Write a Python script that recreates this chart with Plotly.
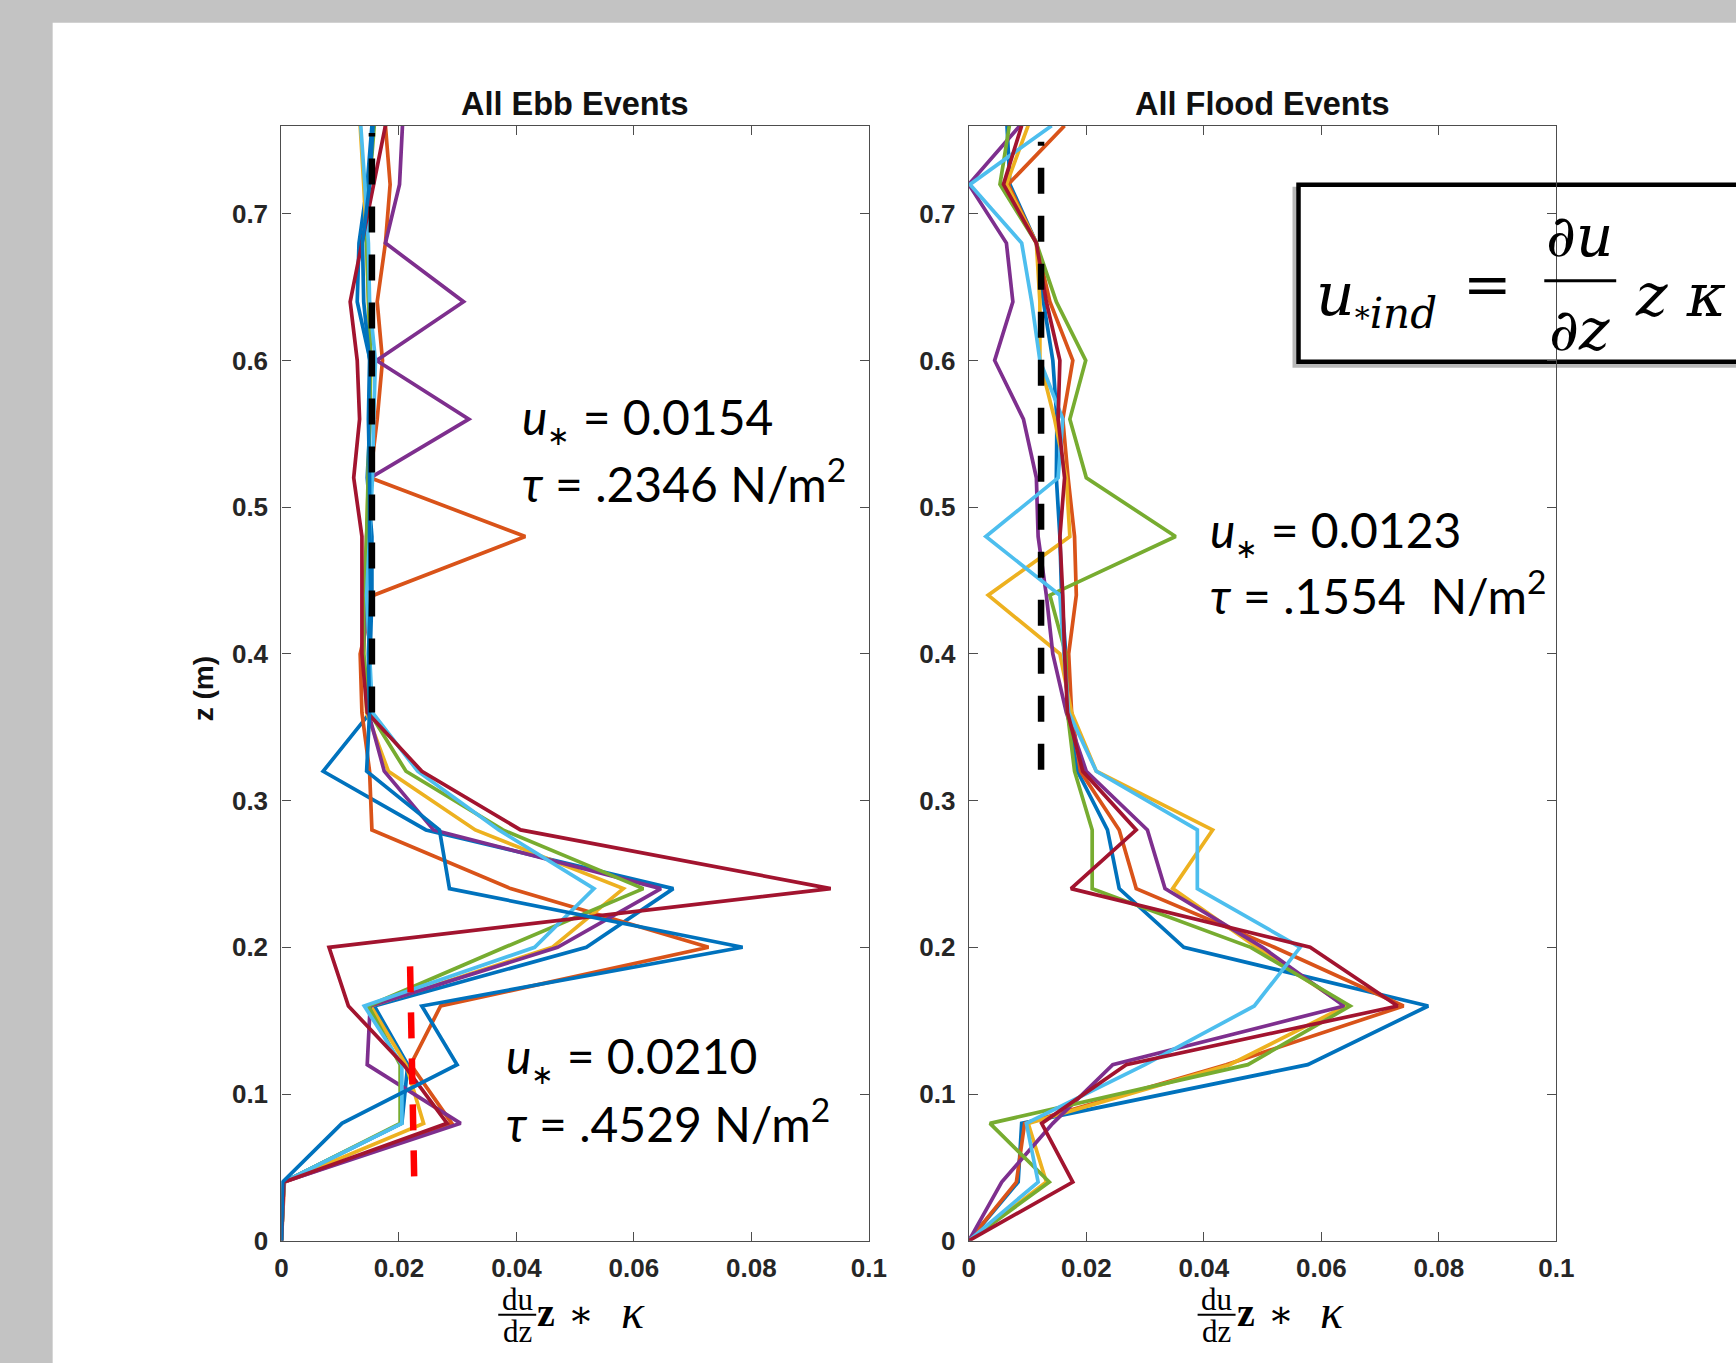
import plotly.graph_objects as go

W, H = 1736, 1363

# Heights of the measurement bins (m)
z = [0.00, 0.04, 0.08, 0.12, 0.16, 0.20, 0.24, 0.28, 0.32, 0.36,
     0.40, 0.44, 0.48, 0.52, 0.56, 0.60, 0.64, 0.68, 0.72, 0.76]

# Ebb events: du/dz * z * kappa for each event profile
ebb_1 = [0, 0.0003, 0.0205, 0.0215, 0.0158, 0.0519, 0.0667, 0.0246, 0.0071, 0.0151,
         0.0151, 0.0154, 0.0154, 0.0146, 0.0151, 0.0151, 0.0129, 0.0132, 0.0146, 0.0154]
ebb_2 = [0, 0.0005, 0.0290, 0.0220, 0.0271, 0.0727, 0.0390, 0.0154, 0.0150, 0.0137,
         0.0134, 0.0157, 0.0415, 0.0151, 0.0163, 0.0172, 0.0163, 0.0177, 0.0185, 0.0177]
ebb_3 = [0, 0.0004, 0.0242, 0.0212, 0.0152, 0.0461, 0.0582, 0.0330, 0.0182, 0.0145,
         0.0140, 0.0142, 0.0145, 0.0148, 0.0150, 0.0152, 0.0148, 0.0145, 0.0140, 0.0134]
ebb_4 = [0, 0.0004, 0.0305, 0.0146, 0.0151, 0.0470, 0.0646, 0.0259, 0.0175, 0.0148,
         0.0139, 0.0145, 0.0145, 0.0151, 0.0319, 0.0162, 0.0310, 0.0177, 0.0201, 0.0206]
ebb_5 = [0, 0.0004, 0.0202, 0.0202, 0.0148, 0.0380, 0.0616, 0.0377, 0.0212, 0.0150,
         0.0140, 0.0140, 0.0145, 0.0148, 0.0150, 0.0152, 0.0148, 0.0145, 0.0150, 0.0158]
ebb_6 = [0, 0.0004, 0.0205, 0.0205, 0.0141, 0.0431, 0.0532, 0.0370, 0.0232, 0.0155,
         0.0150, 0.0145, 0.0150, 0.0155, 0.0157, 0.0160, 0.0150, 0.0148, 0.0142, 0.0135]
ebb_7 = [0, 0.0004, 0.0282, 0.0208, 0.0114, 0.0081, 0.0935, 0.0407, 0.0239, 0.0146,
         0.0137, 0.0137, 0.0137, 0.0123, 0.0133, 0.0129, 0.0117, 0.0137, 0.0157, 0.0177]
ebb_8 = [0, 0.0002, 0.0103, 0.0299, 0.0239, 0.0785, 0.0286, 0.0269, 0.0145, 0.0150,
         0.0148, 0.0152, 0.0150, 0.0150, 0.0148, 0.0150, 0.0140, 0.0138, 0.0150, 0.0156]

# Flood events
flood_1 = [0, 0.0084, 0.0090, 0.0577, 0.0782, 0.0366, 0.0256, 0.0236, 0.0185, 0.0168,
           0.0165, 0.0158, 0.0155, 0.0149, 0.0150, 0.0143, 0.0127, 0.0115, 0.0070, 0.0065]
flood_2 = [0, 0.0081, 0.0095, 0.0438, 0.0740, 0.0520, 0.0285, 0.0256, 0.0190, 0.0175,
           0.0170, 0.0183, 0.0180, 0.0169, 0.0160, 0.0177, 0.0138, 0.0115, 0.0067, 0.0163]
flood_3 = [0, 0.0132, 0.0101, 0.0444, 0.0642, 0.0490, 0.0347, 0.0415, 0.0217, 0.0175,
           0.0155, 0.0033, 0.0172, 0.0166, 0.0146, 0.0121, 0.0121, 0.0115, 0.0064, 0.0101]
flood_4 = [0, 0.0056, 0.0143, 0.0245, 0.0639, 0.0500, 0.0334, 0.0304, 0.0200, 0.0166,
           0.0143, 0.0132, 0.0118, 0.0115, 0.0093, 0.0044, 0.0075, 0.0064, 0.0000, 0.0087]
flood_5 = [0, 0.0137, 0.0036, 0.0475, 0.0649, 0.0480, 0.0210, 0.0210, 0.0180, 0.0168,
           0.0165, 0.0138, 0.0352, 0.0200, 0.0172, 0.0199, 0.0149, 0.0115, 0.0053, 0.0069]
flood_6 = [0, 0.0118, 0.0098, 0.0300, 0.0486, 0.0564, 0.0389, 0.0389, 0.0217, 0.0170,
           0.0162, 0.0155, 0.0029, 0.0152, 0.0160, 0.0121, 0.0107, 0.0090, 0.0002, 0.0141]
flood_7 = [0, 0.0177, 0.0124, 0.0268, 0.0730, 0.0581, 0.0174, 0.0285, 0.0194, 0.0168,
           0.0163, 0.0160, 0.0155, 0.0163, 0.0152, 0.0155, 0.0132, 0.0115, 0.0059, 0.0090]

# Mean friction-velocity reference lines (x = u*, y = z extent)
ebb_upper_x = [0.0154, 0.0154]
ebb_upper_z = [0.36, 0.755]
ebb_lower_x = [0.0219, 0.0226]
ebb_lower_z = [0.187, 0.042]
flood_upper_x = [0.0123, 0.0123]
flood_upper_z = [0.321, 0.749]

x_ticks = [0, 0.02, 0.04, 0.06, 0.08, 0.1]
x_tick_labels = ["0", "0.02", "0.04", "0.06", "0.08", "0.1"]
y_ticks = [0, 0.1, 0.2, 0.3, 0.4, 0.5, 0.6, 0.7]
y_tick_labels = ["0", "0.1", "0.2", "0.3", "0.4", "0.5", "0.6", "0.7"]

palette = ["#0072BD", "#D95319", "#EDB120", "#7E2F8E",
           "#77AC30", "#4DBEEE", "#A2142F"]

ebb_series = [ebb_1, ebb_2, ebb_3, ebb_4, ebb_5, ebb_6, ebb_7, ebb_8]
flood_series = [flood_1, flood_2, flood_3, flood_4, flood_5, flood_6, flood_7]

# Page-pixel -> paper-fraction conversion (calibrated for the rendered page)
SX, OX = 0.98651, 6.3
SY, OY = 0.98897, -0.7


def fx(px):
    return ((px - OX) / SX) / W


def fy(py):
    return 1 - ((py - OY) / SY) / H


fig = go.Figure()

for i, vals in enumerate(ebb_series):
    fig.add_trace(go.Scatter(x=vals, y=z, mode="lines", xaxis="x", yaxis="y",
                             line=dict(color=palette[i % 7], width=3.7),
                             showlegend=False, hoverinfo="skip"))
for i, vals in enumerate(flood_series):
    fig.add_trace(go.Scatter(x=vals, y=z, mode="lines", xaxis="x2", yaxis="y2",
                             line=dict(color=palette[i % 7], width=3.7),
                             showlegend=False, hoverinfo="skip"))

fig.add_trace(go.Scatter(x=ebb_upper_x, y=ebb_upper_z, mode="lines", xaxis="x", yaxis="y",
                         line=dict(color="black", width=6.5, dash="26px,22px"),
                         showlegend=False, hoverinfo="skip"))
fig.add_trace(go.Scatter(x=ebb_lower_x, y=ebb_lower_z, mode="lines", xaxis="x", yaxis="y",
                         line=dict(color="#FF0000", width=6.5, dash="26px,20px"),
                         showlegend=False, hoverinfo="skip"))
fig.add_trace(go.Scatter(x=flood_upper_x, y=flood_upper_z, mode="lines", xaxis="x2", yaxis="y2",
                         line=dict(color="black", width=6.5, dash="26px,22px"),
                         showlegend=False, hoverinfo="skip"))

tick_font = dict(family="Liberation Sans, Arial", size=26, color="#262626", weight="bold")
axis_common = dict(showline=True, linecolor="#4d4d4d", linewidth=1.3, mirror="ticks",
                   ticks="inside", ticklen=9, tickwidth=1.3, tickcolor="#4d4d4d",
                   showgrid=False, zeroline=False, tickfont=tick_font, fixedrange=True)

y_dom = [fy(1240), fy(125)]
fig.update_layout(
    width=W, height=H, autosize=False,
    margin=dict(l=0, r=0, t=0, b=0),
    paper_bgcolor="#c3c3c3",
    plot_bgcolor="rgba(0,0,0,0)",
    xaxis=dict(domain=[fx(281), fx(869)], range=[0, 0.1], anchor="y",
               tickvals=x_ticks, ticktext=x_tick_labels, ticklabelstandoff=4, **axis_common),
    yaxis=dict(domain=y_dom, range=[0, 0.76], anchor="x",
               tickvals=y_ticks, ticktext=y_tick_labels, ticklabelstandoff=7, **axis_common),
    xaxis2=dict(domain=[fx(969), fx(1557)], range=[0, 0.1], anchor="y2",
                tickvals=x_ticks, ticktext=x_tick_labels, ticklabelstandoff=4, **axis_common),
    yaxis2=dict(domain=y_dom, range=[0, 0.76], anchor="x2",
                tickvals=y_ticks, ticktext=y_tick_labels, ticklabelstandoff=7, **axis_common),
)

shapes = [
    # white page on the gray surround
    dict(type="rect", xref="paper", yref="paper", x0=fx(52), x1=1.05, y0=-0.05, y1=fy(22),
         fillcolor="white", line=dict(width=0), layer="below"),
    # equation box shadow and frame
    dict(type="rect", xref="paper", yref="paper", x0=fx(1295), x1=1.05, y0=fy(365), y1=fy(188),
         fillcolor="rgba(0,0,0,0)", line=dict(color="rgba(0,0,0,0.28)", width=4), layer="below"),
    dict(type="rect", xref="paper", yref="paper", x0=fx(1299), x1=1.05, y0=fy(361), y1=fy(184),
         fillcolor="white", line=dict(color="black", width=4.5), layer="below"),
    # fraction bar inside the equation
    dict(type="line", xref="paper", yref="paper", x0=fx(1545), x1=fx(1617), y0=fy(280), y1=fy(280),
         line=dict(color="black", width=3)),
]

ann = []


def add_text(text, x, y, size, family, xanchor="center", yanchor="middle", angle=0, weight="normal",
             color="black"):
    ann.append(dict(text=text, x=fx(x), y=fy(y), xref="paper", yref="paper", showarrow=False,
                    xanchor=xanchor, yanchor=yanchor, textangle=angle,
                    font=dict(size=size, family=family, color=color, weight=weight)))


sans = "Liberation Sans, Arial"
body = "Lato, Noto Sans"
serif = "Liberation Serif, DejaVu Serif"
math = "DejaVu Serif"

add_text("All Ebb Events", 575, 103, 32.5, sans, weight="bold", color="#111111")
add_text("All Flood Events", 1263, 103, 32.5, sans, weight="bold", color="#111111")
add_text("z (m)", 203, 688, 28, sans, angle=-90, weight="bold", color="#111111")

# x-axis labels: (du/dz) z * kappa under each panel
for fc in (517, 1217):
    add_text("du", fc, 1299, 31, serif)
    add_text("dz", fc, 1331, 31, serif)
    shapes.append(dict(type="line", xref="paper", yref="paper", x0=fx(fc - 19), x1=fx(fc + 19),
                       y0=fy(1314), y1=fy(1314), line=dict(color="black", width=1.8)))
    add_text("<b>z</b>", fc + 29, 1312, 40, serif)
    add_text("\u2217", fc + 64, 1313, 38, serif)
    add_text("<i>\u03ba</i>", fc + 116, 1311, 48, serif)

fig.update_layout(shapes=shapes)

star = "<sub><span style='font-size:27px'>\u2217</span></sub>"
add_text("<i>u</i>" + star + " = 0.0154", 520, 419, 48, body, xanchor="left")
add_text("<i>\u03c4</i> = .2346 N/m<sup>2</sup>", 520, 480, 48, body, xanchor="left")
add_text("<i>u</i>" + star + " = 0.0123", 1208, 532, 48, body, xanchor="left")
add_text("<i>\u03c4</i> = .1554 \u00a0N/m<sup>2</sup>", 1208, 592, 48, body, xanchor="left")
add_text("<i>u</i>" + star + " = 0.0210", 504, 1058, 48, body, xanchor="left")
add_text("<i>\u03c4</i> = .4529 N/m<sup>2</sup>", 504, 1120, 48, body, xanchor="left")

# u*_ind = (du/dz) z kappa
add_text("<i>u</i><sub><span style='font-size:30px'>*</span><i>ind</i></sub>",
         1315, 298, 60, math, xanchor="left")
add_text("=", 1488, 283, 58, math)
add_text("<i>\u2202u</i>", 1580, 235, 58, math)
add_text("<i>\u2202z</i>", 1580, 329, 58, math)
add_text("<i>z</i> <i>\u03ba</i>", 1681, 294, 60, math)

fig.update_layout(annotations=ann)

fig.write_html("out.html", config={"displayModeBar": False})
